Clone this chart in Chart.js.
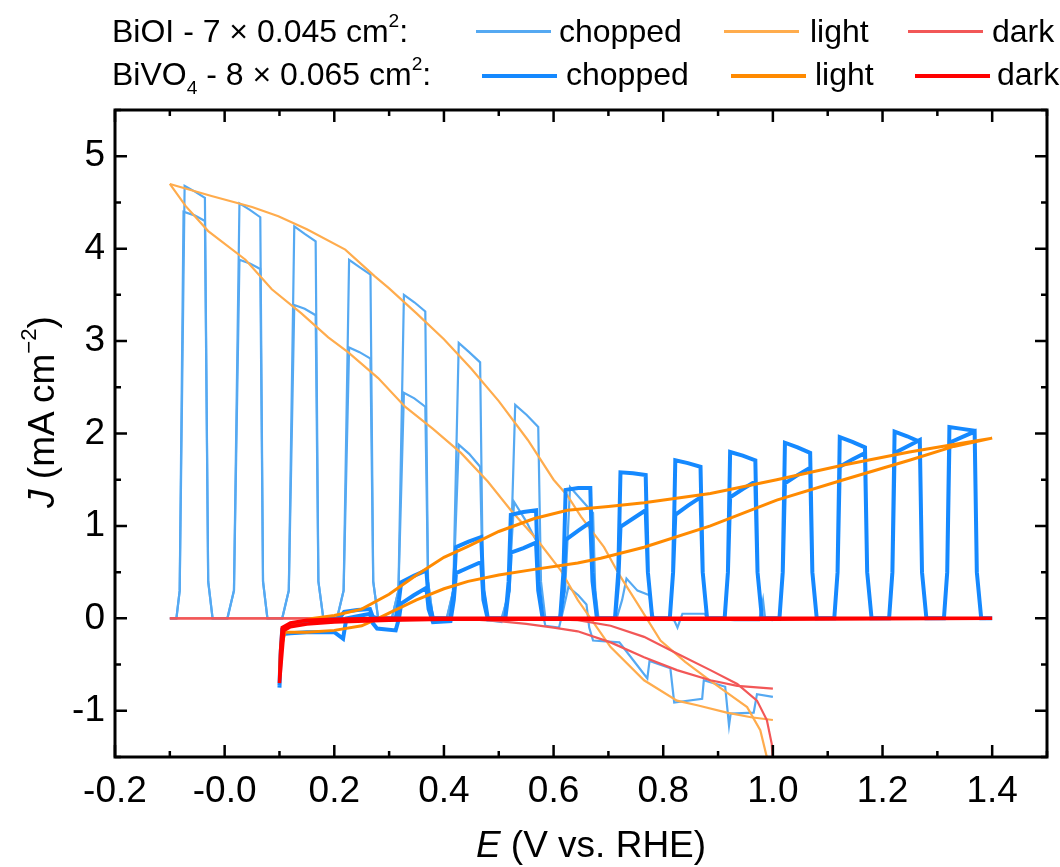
<!DOCTYPE html>
<html>
<head>
<meta charset="utf-8">
<script src="https://cdn.jsdelivr.net/npm/chart.js@4.4.1/dist/chart.umd.min.js"></script>
<style>
  body { margin: 0; background: #fff; font-family: "Liberation Sans", Arial, sans-serif; }
  #wrap { position: relative; width: 1060px; height: 867px; overflow: hidden; }
  canvas { position: absolute; left: 0; top: 0; }
  .t { position: absolute; font-size: 32px; line-height: 32px; white-space: nowrap; color: #000; }
  .sw { position: absolute; }
  .ttl { position: absolute; font-size: 37px; line-height: 37px; white-space: nowrap; color: #000; text-align: center; }
  sup, sub { font-size: 60%; line-height: 0; position: relative; vertical-align: baseline; }
  sup { top: -0.8em; }
  sub { top: 0.45em; }
</style>
</head>
<body>
<div id="wrap">
  <canvas id="cv" width="1060" height="867"></canvas>

  <!-- legend -->
  <div class="t" style="left:112px;top:15px">BiOI - 7 × 0.045 cm<sup>2</sup>:</div>
  <div class="sw" style="left:476px;top:30px;width:75px;height:3px;background:#55a9f2"></div>
  <div class="t" style="left:559px;top:15px">chopped</div>
  <div class="sw" style="left:724px;top:30px;width:75px;height:3px;background:#ffac4d"></div>
  <div class="t" style="left:810px;top:15px">light</div>
  <div class="sw" style="left:908px;top:30px;width:75px;height:3px;background:#f25757"></div>
  <div class="t" style="left:992px;top:15px">dark</div>

  <div class="t" style="left:112px;top:58px">BiVO<sub>4</sub> - 8 × 0.065 cm<sup>2</sup>:</div>
  <div class="sw" style="left:482px;top:74px;width:75px;height:4px;background:#1589ff"></div>
  <div class="t" style="left:566px;top:58px">chopped</div>
  <div class="sw" style="left:731px;top:74px;width:75px;height:4px;background:#ff8a00"></div>
  <div class="t" style="left:815px;top:58px">light</div>
  <div class="sw" style="left:915px;top:74px;width:75px;height:4px;background:#ff0000"></div>
  <div class="t" style="left:997px;top:58px">dark</div>

  <!-- axis titles -->
  <div class="ttl" style="left:123px;top:826px;width:936px"><i>E</i> (V vs. RHE)</div>
  <div class="ttl" style="left:-158px;top:392px;width:400px;line-height:40px;transform:rotate(-90deg)"><i>J</i> (mA cm<sup>−2</sup>)</div>
</div>

<script>
// Axis ticks
const xMajorTicks = [-0.2, 0.0, 0.2, 0.4, 0.6, 0.8, 1.0, 1.2, 1.4];
const yMajorTicks = [-1, 0, 1, 2, 3, 4, 5];

// BiOI - chopped illumination (two scan branches)
const bioiChopUp = [
    [-0.1, 0],
    [-0.088, 0], [-0.082, 0.3], [-0.073, 4.68], [-0.055, 4.62], [-0.036, 4.55], [-0.03, 0.4], [-0.022, 0],
    [0.005, 0], [0.017, 0.3], [0.027, 4.49], [0.046, 4.42], [0.065, 4.34], [0.07, 0.4], [0.078, 0],
    [0.105, 0], [0.117, 0.3], [0.127, 4.24], [0.146, 4.16], [0.166, 4.08], [0.171, 0.4], [0.18, 0],
    [0.205, 0], [0.217, 0.3], [0.227, 3.88], [0.246, 3.8], [0.266, 3.72], [0.271, 0.4], [0.28, 0],
    [0.305, 0], [0.317, 0.3], [0.327, 3.5], [0.346, 3.42], [0.366, 3.32], [0.371, 0.4], [0.38, 0],
    [0.405, 0], [0.417, 0.3], [0.427, 2.98], [0.446, 2.88], [0.466, 2.77], [0.471, 0.4], [0.48, 0],
    [0.505, 0], [0.52, 0.3], [0.53, 2.31], [0.551, 2.2], [0.572, 2.07], [0.577, 0.4], [0.585, 0],
    [0.61, 0], [0.621, 0.3], [0.63, 1.42], [0.651, 1.28], [0.672, 1.14], [0.676, 0.3], [0.682, 0],
    [0.715, 0], [0.725, 0.2], [0.733, 0.43], [0.753, 0.3], [0.775, 0.25], [0.778, 0.1], [0.783, 0],
    [0.82, -0.02], [0.826, -0.1], [0.835, 0.05], [0.876, 0.05], [0.88, 0], [0.93, -0.02],
    [0.975, -0.02], [0.982, 0.2], [0.986, -0.01], [1.0, -0.02]
];
const bioiChopDown = [
    [-0.1, 0],
    [-0.088, 0], [-0.082, 0.3], [-0.075, 4.40], [-0.055, 4.36], [-0.036, 4.30], [-0.03, 0.4], [-0.022, 0],
    [0.005, 0], [0.017, 0.3], [0.027, 3.88], [0.046, 3.84], [0.065, 3.78], [0.07, 0.4], [0.078, 0],
    [0.105, 0], [0.117, 0.3], [0.127, 3.39], [0.146, 3.35], [0.166, 3.28], [0.171, 0.4], [0.18, 0],
    [0.205, 0], [0.217, 0.3], [0.227, 2.93], [0.246, 2.88], [0.266, 2.81], [0.271, 0.4], [0.28, 0],
    [0.305, 0], [0.317, 0.3], [0.327, 2.44], [0.346, 2.38], [0.366, 2.29], [0.371, 0.4], [0.38, 0],
    [0.405, -0.01], [0.417, 0.3], [0.427, 1.88], [0.446, 1.78], [0.466, 1.64], [0.471, 0.3], [0.48, -0.02],
    [0.505, -0.04], [0.518, 0.3], [0.528, 1.26], [0.55, 1.05], [0.57, 0.82], [0.575, 0.2], [0.585, -0.08],
    [0.61, -0.1], [0.618, 0.1], [0.627, 0.34], [0.645, 0.25], [0.66, 0.15], [0.665, -0.1], [0.672, -0.24],
    [0.72, -0.26], [0.745, -0.45], [0.771, -0.65], [0.775, -0.46], [0.813, -0.54], [0.82, -0.91],
    [0.871, -0.87], [0.874, -0.67], [0.913, -0.74], [0.92, -1.16], [0.923, -1.03], [0.965, -1.02],
    [0.971, -0.82], [1.0, -0.85]
];

// BiOI - continuous light
const bioiLightUp = [
    [-0.1, 4.7], [-0.024, 4.57], [0.05, 4.45], [0.098, 4.35], [0.15, 4.21], [0.22, 3.99], [0.274, 3.7],
    [0.3, 3.57], [0.35, 3.3], [0.4, 3.02], [0.45, 2.7], [0.5, 2.35], [0.553, 1.93], [0.6, 1.5],
    [0.625, 1.33], [0.65, 1.1], [0.692, 0.77], [0.72, 0.47], [0.753, 0.16], [0.795, -0.24],
    [0.84, -0.47], [0.885, -0.67], [0.92, -0.82], [0.953, -0.96], [0.977, -1.21], [0.991, -1.55]
];
const bioiLightDown = [
    [-0.1, 4.7], [-0.071, 4.46], [-0.03, 4.19], [0.038, 3.88], [0.086, 3.56], [0.14, 3.3], [0.189, 3.04],
    [0.225, 2.88], [0.28, 2.6], [0.329, 2.29], [0.38, 2.05], [0.431, 1.79], [0.48, 1.48], [0.522, 1.17],
    [0.57, 0.85], [0.613, 0.52], [0.644, 0.2], [0.704, -0.31], [0.765, -0.67], [0.825, -0.89],
    [0.862, -0.94], [0.916, -1.02], [0.96, -1.07], [1.0, -1.1]
];

// BiOI - dark
const bioiDarkA = [
    [-0.1, 0], [0.5, 0], [0.6, -0.01], [0.644, -0.02], [0.704, -0.08], [0.765, -0.2], [0.825, -0.38],
    [0.886, -0.56], [0.935, -0.71], [0.971, -0.89], [0.989, -1.1], [0.998, -1.36], [1.0, -1.55]
];
const bioiDarkB = [
    [-0.1, 0], [0.4, 0], [0.45, -0.01], [0.5, -0.03], [0.55, -0.06], [0.6, -0.1], [0.644, -0.14],
    [0.704, -0.26], [0.765, -0.42], [0.825, -0.56], [0.886, -0.67], [0.935, -0.73], [1.0, -0.76]
];

// BiVO4 - chopped illumination (forward then reverse scan)
const bivoChop = [
    [0.1, -0.75], [0.102, -0.4], [0.105, -0.12], [0.13, -0.05], [0.17, -0.02], [0.205, 0],
    [0.212, 0.02], [0.218, 0.07], [0.242, 0.09], [0.265, 0.1], [0.27, 0.02], [0.278, 0],
    [0.312, 0], [0.318, 0.2], [0.322, 0.39], [0.345, 0.46], [0.368, 0.52], [0.372, 0.2], [0.38, 0],
    [0.412, 0], [0.418, 0.3], [0.422, 0.77], [0.445, 0.83], [0.468, 0.88], [0.472, 0.3], [0.48, 0],
    [0.512, 0], [0.518, 0.4], [0.522, 1.12], [0.545, 1.15], [0.568, 1.17], [0.572, 0.4], [0.58, 0],
    [0.612, 0], [0.618, 0.5], [0.622, 1.39], [0.645, 1.41], [0.667, 1.41], [0.671, 0.5], [0.679, 0],
    [0.712, 0], [0.718, 0.5], [0.722, 1.58], [0.745, 1.57], [0.768, 1.55], [0.772, 0.5], [0.78, 0],
    [0.812, 0], [0.818, 0.5], [0.822, 1.71], [0.845, 1.68], [0.868, 1.64], [0.872, 0.5], [0.88, 0],
    [0.912, 0], [0.918, 0.5], [0.922, 1.8], [0.945, 1.76], [0.968, 1.71], [0.972, 0.5], [0.98, 0],
    [1.012, 0], [1.018, 0.5], [1.022, 1.9], [1.045, 1.85], [1.068, 1.79], [1.072, 0.5], [1.08, 0],
    [1.112, 0], [1.118, 0.5], [1.122, 1.96], [1.145, 1.91], [1.168, 1.85], [1.172, 0.5], [1.18, 0],
    [1.212, 0], [1.218, 0.5], [1.222, 2.02], [1.245, 1.97], [1.268, 1.91], [1.272, 0.5], [1.28, 0],
    [1.312, 0], [1.318, 0.5], [1.322, 2.07], [1.345, 2.05], [1.368, 2.03], [1.372, 0.5], [1.38, 0],
    [1.4, 0],
    [1.38, 0], [1.372, 0.5], [1.368, 2.02], [1.345, 1.96], [1.322, 1.9], [1.318, 0.5], [1.312, 0],
    [1.28, 0], [1.272, 0.5], [1.268, 1.93], [1.245, 1.86], [1.222, 1.79], [1.218, 0.5], [1.212, 0],
    [1.18, 0], [1.172, 0.5], [1.168, 1.79], [1.145, 1.72], [1.122, 1.64], [1.118, 0.5], [1.112, 0],
    [1.08, 0], [1.072, 0.5], [1.068, 1.63], [1.045, 1.55], [1.022, 1.46], [1.018, 0.5], [1.012, 0],
    [0.98, 0], [0.972, 0.5], [0.968, 1.48], [0.945, 1.4], [0.922, 1.31], [0.918, 0.5], [0.912, 0],
    [0.88, 0], [0.872, 0.5], [0.868, 1.31], [0.845, 1.22], [0.822, 1.12], [0.818, 0.5], [0.812, 0],
    [0.78, 0], [0.772, 0.5], [0.768, 1.17], [0.745, 1.08], [0.722, 0.99], [0.718, 0.4], [0.712, 0],
    [0.679, 0], [0.671, 0.4], [0.667, 1.04], [0.645, 0.95], [0.622, 0.85], [0.618, 0.3], [0.612, 0],
    [0.58, 0], [0.572, 0.3], [0.568, 0.82], [0.545, 0.76], [0.522, 0.71], [0.518, 0.3], [0.512, 0],
    [0.48, -0.01], [0.472, 0.2], [0.468, 0.61], [0.445, 0.55], [0.422, 0.49], [0.418, 0.2], [0.412, -0.03],
    [0.38, -0.04], [0.372, 0.1], [0.368, 0.33], [0.345, 0.25], [0.322, 0.16], [0.318, 0], [0.312, -0.13],
    [0.278, -0.11], [0.27, -0.05], [0.265, 0.05], [0.24, 0.02], [0.222, 0.0], [0.216, -0.22],
    [0.2, -0.15], [0.15, -0.15], [0.12, -0.16], [0.106, -0.17], [0.102, -0.4], [0.1, -0.73]
];

// BiVO4 - continuous light
const bivoLight = [
    [0.1, -0.68], [0.102, -0.35], [0.106, -0.1], [0.13, -0.05], [0.16, 0.0], [0.2, 0.03], [0.25, 0.1],
    [0.3, 0.26], [0.35, 0.47], [0.4, 0.66], [0.444, 0.78], [0.5, 0.94], [0.565, 1.08], [0.625, 1.17],
    [0.7, 1.21], [0.765, 1.25], [0.886, 1.35], [1.007, 1.5], [1.129, 1.66], [1.249, 1.8], [1.33, 1.88],
    [1.4, 1.95],
    [1.33, 1.86], [1.249, 1.71], [1.129, 1.5], [1.007, 1.28], [0.886, 1.0], [0.765, 0.77], [0.686, 0.65],
    [0.644, 0.6], [0.565, 0.53], [0.5, 0.47], [0.444, 0.4], [0.4, 0.32], [0.35, 0.2], [0.311, 0.09],
    [0.28, 0.0], [0.25, -0.08], [0.2, -0.13], [0.15, -0.15], [0.11, -0.15], [0.104, -0.3], [0.1, -0.68]
];

// BiVO4 - dark
const bivoDark = [
    [0.1, -0.7], [0.102, -0.35], [0.105, -0.1], [0.12, -0.05], [0.15, -0.02], [0.2, -0.01], [0.3, 0],
    [1.4, 0], [1.0, -0.01], [0.4, -0.01], [0.3, -0.02], [0.2, -0.04], [0.15, -0.06], [0.12, -0.09],
    [0.108, -0.13], [0.1, -0.7]
];

const FONT = '"Liberation Sans", Arial, sans-serif';
const pts = arr => arr.map(([x, y]) => ({ x, y }));
const near = (list, v) => list.some(t => Math.abs(t - v) < 1e-6);

function series(data, color, width, order) {
    return {
        data: pts(data),
        borderColor: color,
        borderWidth: width,
        pointRadius: 0,
        tension: 0,
        fill: false,
        order: order
    };
}

// Inward ticks on all four sides plus the box frame
const frameTicks = {
    id: 'frameTicks',
    afterDraw(chart) {
        const { ctx, chartArea: a, scales: { x, y } } = chart;
        ctx.save();
        ctx.strokeStyle = '#000';
        ctx.lineWidth = 2.5;
        ctx.beginPath();
        x.ticks.forEach(t => {
            const px = x.getPixelForValue(t.value);
            const len = near(xMajorTicks, t.value) ? 12 : 6;
            ctx.moveTo(px, a.bottom); ctx.lineTo(px, a.bottom - len);
            ctx.moveTo(px, a.top); ctx.lineTo(px, a.top + len);
        });
        y.ticks.forEach(t => {
            const py = y.getPixelForValue(t.value);
            const len = near(yMajorTicks, t.value) ? 12 : 6;
            ctx.moveTo(a.left, py); ctx.lineTo(a.left + len, py);
            ctx.moveTo(a.right, py); ctx.lineTo(a.right - len, py);
        });
        ctx.stroke();
        ctx.lineWidth = 3;
        ctx.strokeRect(a.left, a.top, a.right - a.left, a.bottom - a.top);
        ctx.restore();
    }
};

const ctx = document.getElementById('cv').getContext('2d');
new Chart(ctx, {
    type: 'line',
    data: {
        datasets: [
            series(bioiChopUp, '#55a9f2', 2.2, 5),
            series(bioiChopDown, '#55a9f2', 2.2, 5),
            series(bioiLightUp, '#ffac4d', 2.2, 4),
            series(bioiLightDown, '#ffac4d', 2.2, 4),
            series(bioiDarkA, '#f25757', 2.2, 3),
            series(bioiDarkB, '#f25757', 2.2, 3),
            series(bivoChop, '#1589ff', 4, 2),
            series(bivoLight, '#ff8a00', 3, 1),
            series(bivoDark, '#ff0000', 3.5, 0)
        ]
    },
    options: {
        responsive: false,
        devicePixelRatio: 1,
        animation: false,
        layout: { padding: { top: 110, right: 9, left: 0, bottom: 0 } },
        plugins: { legend: { display: false }, tooltip: { enabled: false } },
        scales: {
            x: {
                type: 'linear',
                min: -0.2,
                max: 1.5,
                afterFit: s => { s.height = 110; },
                grid: { display: false, drawTicks: false },
                border: { display: false },
                ticks: {
                    stepSize: 0.1,
                    autoSkip: false,
                    maxRotation: 0,
                    padding: 13,
                    color: '#000',
                    font: { size: 37, family: FONT },
                    callback: v => near(xMajorTicks, v) ? v.toFixed(1) : ''
                }
            },
            y: {
                min: -1.5,
                max: 5.5,
                afterFit: s => { s.width = 115; },
                grid: { display: false, drawTicks: false },
                border: { display: false },
                ticks: {
                    stepSize: 0.5,
                    autoSkip: false,
                    padding: 10,
                    color: '#000',
                    font: { size: 37, family: FONT },
                    callback: v => near(yMajorTicks, v) ? String(Math.round(v)) : ''
                }
            }
        }
    },
    plugins: [frameTicks]
});
</script>
</body>
</html>
